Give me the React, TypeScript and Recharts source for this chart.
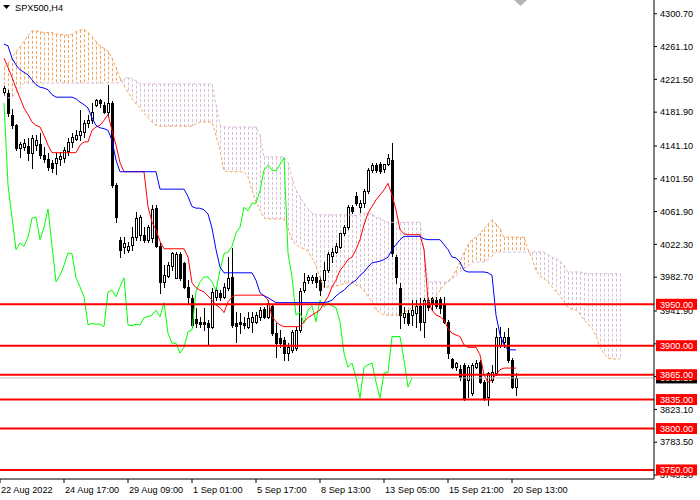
import React from 'react';
import { ComposedChart, Bar, Line, XAxis, YAxis, ReferenceLine } from 'recharts';

const FONT = '"Liberation Sans", Arial, sans-serif';
const FS = 9.2;

// ---- SPX500 H4 candles (bar index 0..128) ----
const opens = [
  4206, 4205, 4179, 4166, 4139, 4140, 4141, 4133, 4142, 4144,
  4130, 4125, 4121, 4121, 4125, 4127, 4135, 4146, 4150, 4154,
  4158, 4169, 4173, 4191, 4197, 4191, 4182, 4193, 4094, 4028,
  4019, 4016, 4022, 4031, 4034, 4034, 4028, 4030, 4066, 4020,
  3977, 3984, 3996, 3982, 4011, 4000, 3971, 3958, 3932, 3929,
  3929, 3927, 3923, 3959, 3964, 3959, 3970, 3983, 3927, 3929,
  3927, 3923, 3929, 3929, 3935, 3944, 3935, 3948, 3915, 3909,
  3907, 3891, 3895, 3897, 3919, 3967, 3979, 3979, 3983, 3979,
  3979, 3991, 4008, 4013, 4019, 4036, 4043, 4067, 4081, 4067,
  4072, 4087, 4112, 4118, 4119, 4113, 4119, 4124, 4007, 3970,
  3935, 3940, 3937, 3940, 3948, 3929, 3955, 3958, 3955, 3956,
  3950, 3929, 3884, 3874, 3872, 3877, 3859, 3843, 3874, 3880,
  3856, 3838, 3859, 3867, 3901, 3905, 3911, 3883, 3850,
];
const highs = [
  4214, 4209, 4186, 4168, 4146, 4150, 4151, 4154, 4154, 4157,
  4140, 4133, 4124, 4133, 4134, 4140, 4151, 4157, 4160, 4185,
  4173, 4179, 4193, 4198, 4198, 4194, 4215, 4195, 4096, 4031,
  4031, 4025, 4043, 4061, 4058, 4043, 4046, 4070, 4070, 4024,
  3997, 4001, 4013, 4013, 4013, 4001, 3979, 3961, 3946, 3935,
  3946, 3931, 3970, 3971, 3967, 3976, 4007, 4018, 3941, 3940,
  3935, 3941, 3941, 3941, 3947, 3947, 3955, 3949, 3927, 3919,
  3911, 3903, 3919, 3923, 3970, 3988, 3985, 3985, 3988, 3983,
  4001, 4013, 4018, 4024, 4036, 4046, 4070, 4070, 4086, 4076,
  4089, 4115, 4121, 4121, 4122, 4119, 4131, 4145, 4010, 3976,
  3947, 3943, 3955, 3955, 3958, 3958, 3958, 3959, 3959, 3959,
  3959, 3931, 3885, 3880, 3877, 3879, 3877, 3879, 3883, 3883,
  3859, 3868, 3877, 3921, 3923, 3917, 3921, 3885, 3867,
];
const lows = [
  4203, 4177, 4163, 4136, 4128, 4136, 4124, 4115, 4136, 4127,
  4122, 4112, 4110, 4107, 4118, 4122, 4130, 4140, 4148, 4148,
  4152, 4164, 4169, 4189, 4188, 4181, 4179, 4092, 4049, 4007,
  4012, 4013, 4016, 4028, 4028, 4025, 4025, 4025, 4019, 3964,
  3971, 3983, 3991, 3982, 3979, 3970, 3952, 3923, 3923, 3923,
  3919, 3902, 3921, 3955, 3955, 3958, 3967, 3923, 3905, 3915,
  3921, 3921, 3917, 3927, 3931, 3933, 3933, 3913, 3886, 3898,
  3883, 3883, 3892, 3895, 3917, 3965, 3976, 3976, 3971, 3961,
  3971, 3989, 4001, 4012, 4018, 4034, 4041, 4060, 4070, 4061,
  4067, 4084, 4110, 4110, 4108, 4110, 4118, 4008, 3976, 3921,
  3927, 3925, 3925, 3923, 3919, 3911, 3943, 3943, 3946, 3940,
  3927, 3885, 3873, 3871, 3859, 3835, 3838, 3841, 3873, 3855,
  3835, 3828, 3856, 3865, 3898, 3898, 3880, 3849, 3841,
];
const closes = [
  4211, 4181, 4166, 4139, 4144, 4145, 4133, 4151, 4148, 4130,
  4125, 4116, 4115, 4127, 4129, 4136, 4146, 4152, 4154, 4159,
  4169, 4173, 4182, 4197, 4193, 4182, 4193, 4094, 4055, 4016,
  4024, 4020, 4031, 4054, 4055, 4028, 4043, 4065, 4020, 3977,
  3985, 3997, 4012, 4011, 3982, 3971, 3959, 3925, 3927, 3926,
  3926, 3923, 3965, 3967, 3959, 3971, 3982, 3925, 3924, 3926,
  3925, 3934, 3935, 3937, 3943, 3935, 3952, 3915, 3903, 3903,
  3891, 3898, 3917, 3919, 3966, 3977, 3983, 3983, 3977, 3967,
  3991, 4011, 4013, 4020, 4036, 4043, 4067, 4063, 4072, 4072,
  4087, 4112, 4118, 4112, 4111, 4119, 4127, 4012, 3983, 3937,
  3940, 3927, 3943, 3948, 3929, 3955, 3947, 3952, 3948, 3946,
  3929, 3891, 3874, 3879, 3862, 3837, 3874, 3877, 3879, 3856,
  3837, 3867, 3868, 3911, 3911, 3911, 3883, 3850, 3861,
];

// ---- Ichimoku lines ----
const tenkan = [
  4247, 4236, 4224, 4211, 4199, 4187, 4179, 4170, 4166, 4164,
  4154, 4142, 4133, 4133, 4133, 4133, 4133, 4133, 4133, 4142,
  4146, 4146, 4160, 4164, 4166, 4172, 4179, 4160, 4142, 4121,
  4110, 4110, 4110, 4110, 4110, 4110, 4068, 4049, 4040, 4026,
  4017, 4017, 4017, 4017, 4017, 4017, 4007, 3976, 3970, 3967,
  3965, 3960, 3955, 3949, 3946, 3940, 3953, 3959, 3961, 3961,
  3961, 3961, 3961, 3961, 3961, 3961, 3955, 3935, 3929, 3925,
  3923, 3923, 3923, 3923, 3923, 3929, 3934, 3937, 3940, 3943,
  3952, 3959, 3971, 3979, 3991, 3997, 4004, 4007, 4016, 4028,
  4046, 4060, 4068, 4076, 4082, 4088, 4096, 4082, 4064, 4040,
  4035, 4034, 4034, 4034, 4034, 4016, 3955, 3943, 3937, 3935,
  3931, 3921, 3915, 3913, 3911, 3901, 3898, 3898, 3898, 3889,
  3865, 3856, 3859, 3865, 3871, 3873, 3873, 3873, 3873,
];
const kijun = [
  4264, 4262, 4247, 4239, 4233, 4230, 4227, 4221, 4215, 4212,
  4211, 4209, 4203, 4200, 4200, 4200, 4200, 4200, 4198, 4194,
  4191, 4187, 4175, 4166, 4163, 4162, 4160, 4148, 4124, 4110,
  4110, 4110, 4110, 4110, 4110, 4110, 4110, 4110, 4110, 4089,
  4089, 4089, 4089, 4089, 4089, 4089, 4080, 4068, 4066, 4066,
  4064, 4059, 4042, 4016, 3995, 3988, 3988, 3988, 3988, 3988,
  3988, 3988, 3988, 3979, 3964, 3960, 3958, 3955, 3952, 3952,
  3952, 3952, 3952, 3952, 3952, 3952, 3952, 3952, 3952, 3952,
  3952, 3953, 3955, 3960, 3964, 3967, 3972, 3976, 3979, 3985,
  3989, 3995, 4000, 4001, 4002, 4004, 4007, 4016, 4022, 4028,
  4032, 4032, 4032, 4032, 4032, 4029, 4028, 4028, 4028, 4028,
  4022, 4016, 4007, 4006, 4001, 3991, 3989, 3989, 3989, 3989,
  3989, 3988, 3985, 3937, 3913, 3901, 3895, 3895, 3895,
];
// Senkou spans (already shifted 26 bars forward, index 0..154)
const spanA = [
  4236, 4241, 4247, 4255, 4261, 4267, 4274, 4280, 4280, 4279,
  4278, 4278, 4278, 4276, 4276, 4275, 4275, 4276, 4279, 4281,
  4282, 4278, 4273, 4267, 4262, 4259, 4255, 4247, 4236, 4223,
  4214, 4206, 4198, 4192, 4187, 4181, 4175, 4170, 4166, 4165,
  4165, 4165, 4165, 4165, 4165, 4165, 4165, 4165, 4168, 4170,
  4170, 4170, 4170, 4154, 4136, 4111, 4110, 4110, 4110, 4110,
  4110, 4104, 4088, 4073, 4064, 4054, 4053, 4053, 4053, 4053,
  4053, 4042, 4028, 4022, 4019, 4017, 4014, 4006, 3996, 3982,
  3970, 3971, 3971, 3972, 3973, 3975, 3976, 3976, 3973, 3971,
  3967, 3959, 3952, 3943, 3940, 3937, 3937, 3937, 3937, 3937,
  3940, 3943, 3946, 3948, 3949, 3952, 3953, 3955, 3960, 3967,
  3973, 3978, 3982, 3991, 4001, 4013, 4022, 4028, 4031, 4036,
  4041, 4047, 4052, 4047, 4041, 4031, 4031, 4031, 4031, 4031,
  4031, 4016, 4006, 3991, 3984, 3981, 3977, 3971, 3965, 3960,
  3953, 3946, 3944, 3943, 3938, 3931, 3926, 3921, 3912, 3898,
  3890, 3885, 3884, 3884, 3884,
];
const spanB = [
  4203, 4199, 4200, 4206, 4212, 4217, 4217, 4217, 4217, 4217,
  4217, 4217, 4217, 4217, 4217, 4217, 4217, 4217, 4217, 4217,
  4217, 4217, 4217, 4217, 4217, 4217, 4217, 4217, 4217, 4218,
  4222, 4224, 4222, 4220, 4216, 4216, 4216, 4216, 4216, 4216,
  4216, 4216, 4216, 4216, 4216, 4216, 4216, 4216, 4216, 4216,
  4216, 4216, 4216, 4191, 4166, 4164, 4164, 4164, 4164, 4164,
  4164, 4164, 4164, 4164, 4154, 4128, 4128, 4128, 4128, 4128,
  4128, 4121, 4102, 4088, 4080, 4072, 4065, 4060, 4058, 4058,
  4058, 4058, 4058, 4058, 4058, 4058, 4058, 4058, 4057, 4059,
  4060, 4060, 4059, 4055, 4054, 4051, 4049, 4049, 4049, 4049,
  4049, 4049, 4049, 4049, 4049, 4016, 3977, 3977, 3977, 3977,
  3977, 3977, 3981, 3984, 3989, 3993, 3996, 4001, 4001, 4001,
  4001, 4004, 4008, 4013, 4013, 4013, 4013, 4013, 4013, 4013,
  4013, 4013, 4013, 4013, 4013, 4013, 4010, 4007, 4005, 4002,
  3997, 3989, 3989, 3989, 3989, 3988, 3987, 3987, 3987, 3987,
  3987, 3987, 3987, 3987, 3987,
];
const CHIKOU_SHIFT = 26; // Chikou span = close plotted 26 bars back

// ---- axes ----
const yTicks = [4300.7, 4261.1, 4221.5, 4181.9, 4141.1, 4101.5, 4061.9, 4022.3, 3982.7, 3941.9, 3902.3, 3862.7, 3823.1, 3783.5, 3743.9];
const xTickIdx = [-1, 15, 31, 47, 63, 79, 95, 111, 127];
const xTickLabels = ['22 Aug 2022', '24 Aug 17:00', '29 Aug 09:00', '1 Sep 01:00', '5 Sep 17:00', '8 Sep 13:00', '13 Sep 05:00', '15 Sep 21:00', '20 Sep 13:00'];
const levels = [3950, 3900, 3865, 3835, 3800, 3750];
const bidPrice = 3861.1;
const tagTicks = [bidPrice, ...levels];

const data = spanA.map((a, i) => {
  const b = spanB[i];
  const has = i < opens.length;
  const ch = i + CHIKOU_SHIFT < closes.length ? closes[i + CHIKOU_SHIFT] : undefined;
  return {
    i,
    spanA: a,
    spanB: b,
    cloud: [Math.min(a, b), Math.max(a, b)],
    open: has ? opens[i] : undefined,
    high: has ? highs[i] : undefined,
    low: has ? lows[i] : undefined,
    close: has ? closes[i] : undefined,
    hl: has ? [lows[i], highs[i]] : undefined,
    tenkan: has ? tenkan[i] : undefined,
    kijun: has ? kijun[i] : undefined,
    chikou: ch,
  };
});

const CandleShape = (props: any) => {
  const { x, y, width, height, payload } = props;
  if (!payload || payload.high == null || x == null || isNaN(y)) return null;
  const top = Math.min(y, y + height);
  const bot = Math.max(y, y + height);
  const { open, close, high, low } = payload;
  const span = high - low || 1;
  const toY = (v: number) => top + ((high - v) / span) * (bot - top);
  const cx = Math.round(x + width / 2);
  const yo = Math.round(toY(open));
  const yc = Math.round(toY(close));
  const bt = Math.min(yo, yc);
  const bb = Math.max(yo, yc);
  const bull = close >= open;
  return (
    <g>
      <line x1={cx + 0.5} x2={cx + 0.5} y1={Math.round(top)} y2={Math.round(bot) + 1} stroke="#000" strokeWidth={1} />
      <rect x={cx - 0.5} y={bt + 0.5} width={2} height={Math.max(bb - bt, 0.01)} fill={bull ? '#fff' : '#000'} stroke="#000" strokeWidth={1} />
    </g>
  );
};

const HatchShape = (props: any) => {
  const { x, y, width, height, payload } = props;
  if (!payload || x == null || isNaN(y)) return null;
  const top = Math.min(y, y + height);
  const bot = Math.max(y, y + height);
  const cx = Math.round(x + width / 2) + 0.5;
  const col = payload.spanA >= payload.spanB ? '#F4A460' : '#D8BFD8';
  return <line x1={cx} x2={cx} y1={top} y2={bot} stroke={col} strokeWidth={1} strokeDasharray="3 2" />;
};

// price tags drawn as ticks of a second right axis so they sit above the price labels
const TagTick = (props: any) => {
  const { x, y, payload } = props;
  const v = payload.value;
  const isBid = v === bidPrice;
  const left = x - 43;
  return (
    <g>
      <rect x={left} y={y - 5.5} width={41} height={11} fill={isBid ? '#000' : '#FF0000'} />
      <text x={left + 4} y={y + 3.5} fill="#fff" fontSize={FS} fontFamily={FONT}>{v.toFixed(2)}</text>
    </g>
  );
};

const XTick = (props: any) => {
  const { x, y, payload } = props;
  const k = xTickIdx.indexOf(payload.value);
  return (
    <text x={x + 1} y={y + 8} fontSize={FS} fontFamily={FONT} fill="#000" textAnchor="start">
      {k >= 0 ? xTickLabels[k] : ''}
    </text>
  );
};

export default function App() {
  return (
    <div style={{ position: 'relative', width: 700, height: 500, background: '#fff' }}>
      <style>{'body{margin:0;background:#fff}'}</style>
      <ComposedChart width={700} height={500} data={data} margin={{ top: 0, right: 0, bottom: 0, left: 0 }}>
        <XAxis
          xAxisId={0}
          type="number"
          dataKey="i"
          domain={[-1, 162.5]}
          allowDataOverflow
          ticks={xTickIdx}
          interval={0}
          tick={<XTick />}
          tickSize={4}
          height={21}
          axisLine={{ stroke: '#000' }}
          tickLine={{ stroke: '#000' }}
        />
        <XAxis xAxisId="c" type="number" dataKey="i" domain={[-1, 162.5]} allowDataOverflow hide />
        <YAxis
          yAxisId={0}
          orientation="right"
          width={45}
          domain={[3739.1, 4317.3]}
          allowDataOverflow
          ticks={yTicks}
          interval={0}
          tickFormatter={(v: number) => v.toFixed(2)}
          tick={{ fontSize: FS, fontFamily: FONT, fill: '#000' }}
          tickSize={3}
          tickMargin={3}
          axisLine={{ stroke: '#000' }}
          tickLine={{ stroke: '#000' }}
        />
        <YAxis
          yAxisId="tags"
          orientation="right"
          width={1}
          domain={[3739.1, 4317.3]}
          allowDataOverflow
          ticks={tagTicks}
          interval={0}
          tick={<TagTick />}
          tickSize={0}
          tickMargin={0}
          axisLine={false}
          tickLine={false}
        />
        <Bar xAxisId="c" dataKey="cloud" shape={(p: any) => <HatchShape {...p} />} isAnimationActive={false} />
        <Line dataKey="spanA" stroke="#F4A460" strokeDasharray="3 2" dot={false} activeDot={false} isAnimationActive={false} strokeWidth={1} />
        <Line dataKey="spanB" stroke="#D8BFD8" strokeDasharray="3 2" dot={false} activeDot={false} isAnimationActive={false} strokeWidth={1} />
        <Bar xAxisId={0} dataKey="hl" shape={(p: any) => <CandleShape {...p} />} isAnimationActive={false} />
        <Line dataKey="chikou" stroke="#00FF00" dot={false} activeDot={false} isAnimationActive={false} strokeWidth={1} />
        <Line dataKey="tenkan" stroke="#FF0000" dot={false} activeDot={false} isAnimationActive={false} strokeWidth={1} />
        <Line dataKey="kijun" stroke="#0000FF" dot={false} activeDot={false} isAnimationActive={false} strokeWidth={1} />
        <ReferenceLine y={bidPrice} stroke="#C0C0C0" strokeWidth={1} />
        {levels.map((lv) => (
          <ReferenceLine key={lv} y={lv} stroke="#FF0000" strokeWidth={2} />
        ))}
      </ComposedChart>
      <svg width={700} height={20} style={{ position: 'absolute', left: 0, top: 0, pointerEvents: 'none' }}>
        <polygon points="3,5 10,5 6.5,9" fill="#000" />
        <text x={15} y={11} fontSize={FS} fontFamily={FONT} fill="#000">SPX500,H4</text>
        <polygon points="514,0 527,0 520.5,6" fill="#B4B4B4" />
      </svg>
    </div>
  );
}
